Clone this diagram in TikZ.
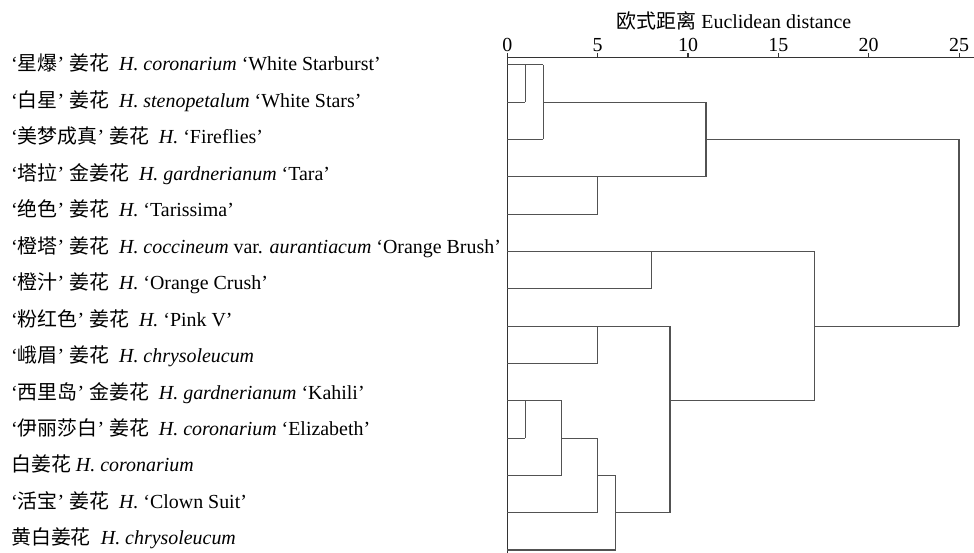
\documentclass[tikz,border=0pt]{standalone}
\usepackage{fontspec}
\setmainfont{Liberation Serif}
\newfontfamily\cjk{Noto Sans CJK SC}
\newcommand\zh[1]{{\cjk #1}}
\newcommand\dendx[1]{507.3+18.07*#1}
\newcommand\dendy[1]{64.8+37.33*(#1-1)}
\newcommand\texty[1]{71+36.45*(#1-1)}
\newcommand\dhseg[3]{\draw[dline] ({\dendx{#2}},{\dendy{#1}}) -- ({\dendx{#3}},{\dendy{#1}});}
\newcommand\dvseg[3]{\draw[dline] ({\dendx{#1}},{\dendy{#2}}) -- ({\dendx{#1}},{\dendy{#3}});}
\tikzset{
  dline/.style={draw=black!68, line width=1.2bp},
  axisline/.style={draw=black!80, line width=1.1bp},
  leaf/.style={anchor=base west, inner sep=0pt, font=\fontsize{20}{24}\selectfont},
  ticklab/.style={anchor=base, inner sep=0pt, font=\fontsize{20}{24}\selectfont},
}
\begin{document}
\begin{tikzpicture}[x=1bp,y=-1bp]
\useasboundingbox (0,0) rectangle (974,553);
% axis
\node[anchor=base, inner sep=0pt, font=\fontsize{20}{24}\selectfont] (title) at (734,29) {\zh{欧式距离} Euclidean distance};
\coordinate (axL) at ({\dendx{0}},57.5);
\coordinate (axR) at (974,57.5);
\draw[axisline] (axL) -- (axR);
\foreach \v in {0,5,10,15,20,25}{
  \draw[axisline] ({\dendx{\v}},57.5) -- ({\dendx{\v}},53.5);
  \node[ticklab] (tick\v) at ({\dendx{\v}},52) {\v};
}
\coordinate (base) at ({\dendx{0}},553);
\draw[axisline] (axL) -- (base);
% leaves
\node[leaf] (l1) at (11,{\texty{1}}) {‘\zh{星爆}’ \zh{姜花}\ \ \textit{H. coronarium} ‘White Starburst’};
\node[leaf] (l2) at (11,{\texty{2}}) {‘\zh{白星}’ \zh{姜花}\ \ \textit{H. stenopetalum} ‘White Stars’};
\node[leaf] (l3) at (11,{\texty{3}}) {‘\zh{美梦成真}’ \zh{姜花}\ \ \textit{H.} ‘Fireflies’};
\node[leaf] (l4) at (11,{\texty{4}}) {‘\zh{塔拉}’ \zh{金姜花}\ \ \textit{H. gardnerianum} ‘Tara’};
\node[leaf] (l5) at (11,{\texty{5}}) {‘\zh{绝色}’ \zh{姜花}\ \ \textit{H.} ‘Tarissima’};
\node[leaf] (l6) at (11,{\texty{6}}) {‘\zh{橙塔}’ \zh{姜花}\ \ \textit{H. coccineum} var. \textit{aurantiacum} ‘Orange Brush’};
\node[leaf] (l7) at (11,{\texty{7}}) {‘\zh{橙汁}’ \zh{姜花}\ \ \textit{H.} ‘Orange Crush’};
\node[leaf] (l8) at (11,{\texty{8}}) {‘\zh{粉红色}’ \zh{姜花}\ \ \textit{H.} ‘Pink V’};
\node[leaf] (l9) at (11,{\texty{9}}) {‘\zh{峨眉}’ \zh{姜花}\ \ \textit{H. chrysoleucum}};
\node[leaf] (l10) at (11,{\texty{10}}) {‘\zh{西里岛}’ \zh{金姜花}\ \ \textit{H. gardnerianum} ‘Kahili’};
\node[leaf] (l11) at (11,{\texty{11}}) {‘\zh{伊丽莎白}’ \zh{姜花}\ \ \textit{H. coronarium} ‘Elizabeth’};
\node[leaf] (l12) at (11,{\texty{12}}) {\zh{白姜花} \textit{H. coronarium}};
\node[leaf] (l13) at (11,{\texty{13}}) {‘\zh{活宝}’ \zh{姜花}\ \ \textit{H.} ‘Clown Suit’};
\node[leaf] (l14) at (11,{\texty{14}}) {\zh{黄白姜花}\ \ \textit{H. chrysoleucum}};
% dendrogram horizontals
\dhseg{1}{0}{2}
\dhseg{2}{0}{1} \dhseg{2}{2}{11}
\dhseg{3}{0}{2} \dhseg{3}{11}{25}
\dhseg{4}{0}{11}
\dhseg{5}{0}{5}
\dhseg{6}{0}{17}
\dhseg{7}{0}{8}
\dhseg{8}{0}{9} \dhseg{8}{17}{25}
\dhseg{9}{0}{5}
\dhseg{10}{0}{3} \dhseg{10}{9}{17}
\dhseg{11}{0}{1} \dhseg{11}{3}{5}
\dhseg{12}{0}{3} \dhseg{12}{5}{6}
\dhseg{13}{0}{5} \dhseg{13}{6}{9}
\dhseg{14}{0}{6}
% verticals
\dvseg{1}{1}{2}
\dvseg{2}{1}{3}
\dvseg{11}{2}{4}
\dvseg{5}{4}{5}
\dvseg{25}{3}{8}
\dvseg{8}{6}{7}
\dvseg{17}{6}{10}
\dvseg{5}{8}{9}
\dvseg{9}{8}{13}
\dvseg{1}{10}{11}
\dvseg{3}{10}{12}
\dvseg{5}{11}{13}
\dvseg{6}{12}{14}
\end{tikzpicture}
\end{document}
